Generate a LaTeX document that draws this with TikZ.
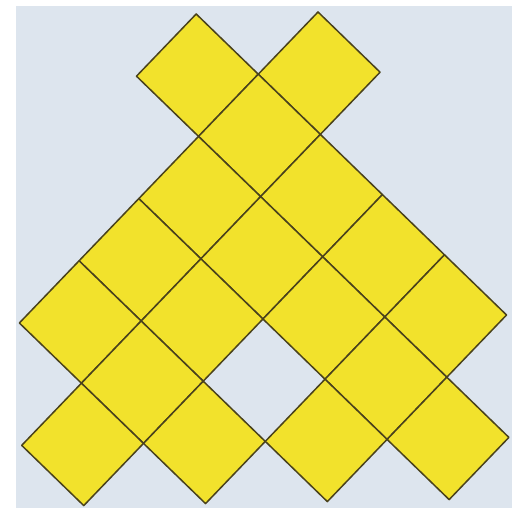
\documentclass[tikz,border=0pt]{standalone}
\definecolor{bgblue}{RGB}{221,229,238}
\definecolor{tileyellow}{RGB}{242,226,44}
\definecolor{tileedge}{RGB}{74,66,28}
\tikzset{tile/.style={fill=tileyellow,draw=tileedge,line width=1.5pt,line join=round}}
\begin{document}
\begin{tikzpicture}[x=1pt,y=1pt]
\useasboundingbox (0,0) rectangle (512,508);
\fill[white] (0,0) rectangle (512,508);
\fill[bgblue] (16,0) rectangle (512,502);
\begin{scope}[shift={(13.5,491)},x={(60.9pt,1pt)},y={(1.17pt,-61.2pt)}]
\foreach \c/\r in {3/1,5/1,4/2,3/3,5/3,2/4,4/4,6/4,1/5,3/5,5/5,7/5,2/6,6/6,1/7,3/7,5/7,7/7}
  \draw[tile] (\c,\r-1) -- (\c+1,\r) -- (\c,\r+1) -- (\c-1,\r) -- cycle;
\end{scope}
\end{tikzpicture}
\end{document}
